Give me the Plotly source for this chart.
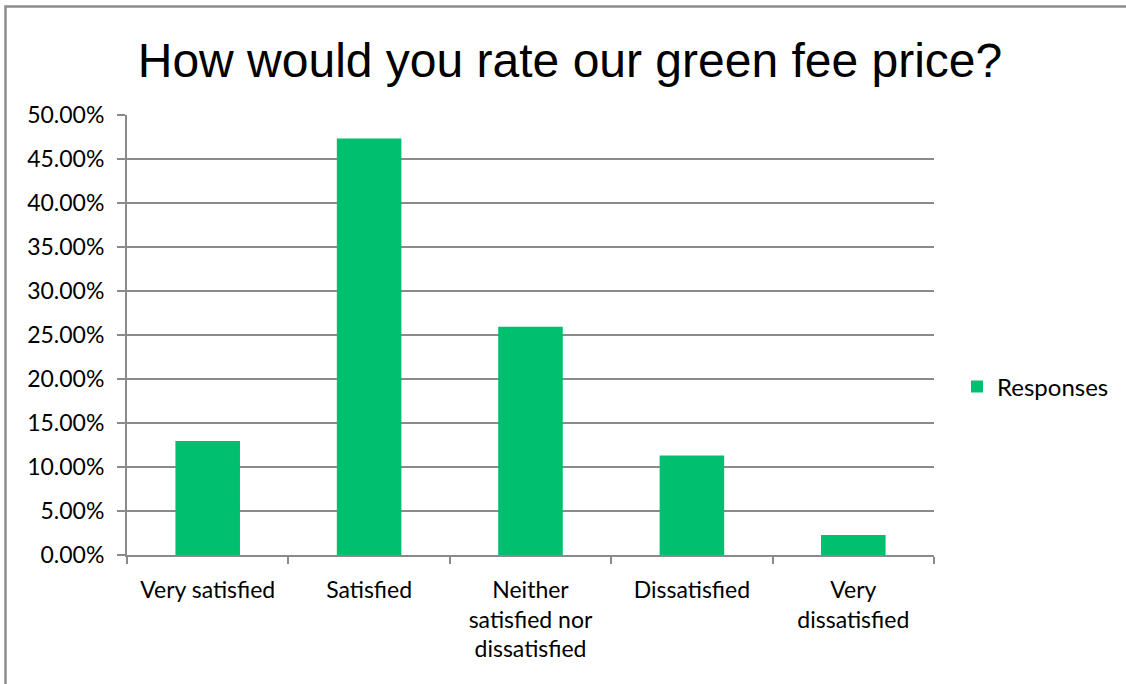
import plotly.graph_objects as go

categories = ["Very satisfied", "Satisfied", "Neither<br>satisfied nor<br>dissatisfied", "Dissatisfied", "Very<br>dissatisfied"]
responses = [0.1296, 0.4733, 0.2595, 0.1130, 0.0227]
y_ticks = [0, 0.05, 0.10, 0.15, 0.20, 0.25, 0.30, 0.35, 0.40, 0.45, 0.50]
y_ticktext = ["%.2f%%" % (v * 100) for v in y_ticks]

W, H = 1126, 684
# reference pixel geometry (page coordinates)
PL, PR, PT, PB = 127, 934, 115, 555
L, T = PL, PT
R, B = W - PR, H - PB
pw, ph = PR - PL, PB - PT

def px_x(p):
    return (p - PL) / pw

def px_y(p):
    return (PB - p) / ph

green = "#00BF6F"
grid = "#8a8a8a"
font = "Lato, Open Sans, sans-serif"

fig = go.Figure()
fig.add_trace(go.Bar(x=categories, y=responses, name="Responses",
                     marker=dict(color=green, line=dict(width=0)), showlegend=True))

fig.update_layout(
    width=W, height=H,
    margin=dict(l=L, r=R, t=T, b=B, autoexpand=False),
    paper_bgcolor="white", plot_bgcolor="white",
    bargap=0.6,
    font=dict(family=font, size=23, color="#000000"),
    title=dict(text="How would you rate our green fee price?",
               font=dict(family="Liberation Sans, Arial, sans-serif", size=48, color="#000000"),
               x=570 / W, xanchor="center", y=1 - 60 / H, yanchor="middle"),
    legend=dict(x=px_x(957), y=px_y(387), xanchor="left", yanchor="middle",
                font=dict(family=font, size=24), itemwidth=30,
                bgcolor="rgba(0,0,0,0)"),
    xaxis=dict(showline=True, linecolor=grid, linewidth=2, ticks="outside",
               tickson="boundaries", ticklen=7, tickcolor=grid, tickwidth=2,
               showgrid=False, ticklabelstandoff=13, tickfont=dict(size=23)),
    yaxis=dict(range=[0, 0.5], tickvals=y_ticks, ticktext=y_ticktext,
               showline=True, linecolor=grid, linewidth=2, ticks="outside",
               ticklen=8, tickcolor=grid, tickwidth=2,
               showgrid=True, gridcolor=grid, gridwidth=1.5,
               ticklabelstandoff=8, tickfont=dict(size=23), zeroline=False),
)

fig.add_shape(type="rect", xref="paper", yref="paper",
              x0=px_x(5.5), x1=px_x(1140), y0=px_y(6.5), y1=px_y(700),
              line=dict(color="#8c8c8c", width=2.5), fillcolor="rgba(0,0,0,0)", layer="below")

fig.write_html("out.html", config={"displayModeBar": False},
               post_script="document.body.style.margin='0';document.body.style.overflow='hidden';")
